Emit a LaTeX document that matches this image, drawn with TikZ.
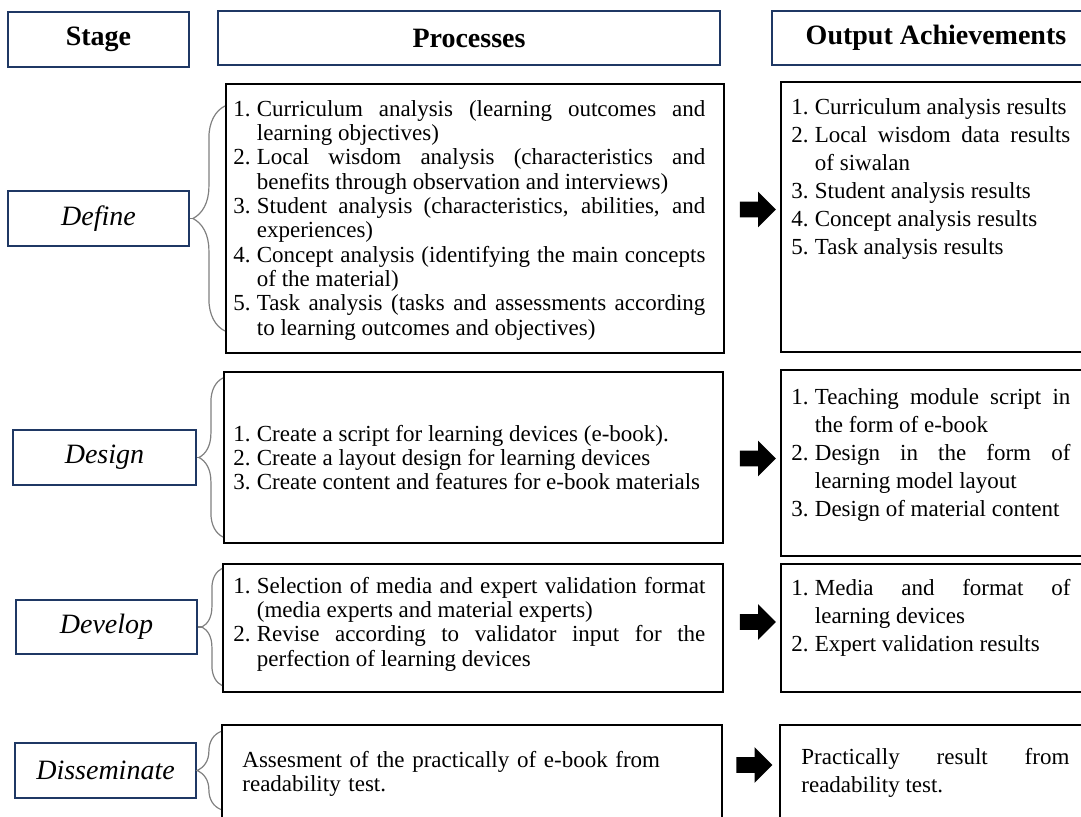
\documentclass[tikz,border=0pt]{standalone}
\usepackage{fontspec}
\setmainfont{Liberation Serif}
\usetikzlibrary{positioning, fit, calc, shapes.arrows, decorations.pathreplacing}
\definecolor{navy}{HTML}{1F3864}
\definecolor{bracegray}{HTML}{808080}

\newlength{\numw}
\setlength{\numw}{11.75pt}
% numbered item with hanging indent
\newcommand{\stepitem}[2]{\hangindent=\numw\hangafter=1\noindent\makebox[\numw][l]{\rule{0pt}{11pt}#1}#2\par}

\begin{document}
\begin{tikzpicture}[
            x = 0.5pt, y = -0.5pt, % one unit = one pixel
            head/.style = {draw = navy, line width = 0.9pt, inner sep = 0pt,
                label = {[font = \fontsize{14}{16}\selectfont\bfseries]center:#1}},
            stagebox/.style = {draw = navy, line width = 0.9pt, inner sep = 0pt,
                label = {[font = \fontsize{14}{16}\selectfont\itshape]center:#1}},
            procbox/.style = {draw = black, line width = 1.1pt, inner sep = 0pt},
            bodytext/.style = {inner sep = 0pt, anchor = north west, align = justify,
                execute at begin node = {\lineskiplimit=-\maxdimen\hyphenpenalty=10000\exhyphenpenalty=10000}},
            proctext/.style = {bodytext, text width = 236pt, font = \fontsize{11.5}{12.15}\selectfont},
            outtext/.style = {bodytext, text width = 139.5pt, font = \fontsize{11.5}{14}\selectfont},
            bracket/.style = {draw = bracegray, line width = 0.6pt},
            blockarrow/.style = {single arrow, fill = black, inner xsep = 0pt, inner ysep = 3.75pt,
                minimum width = 17.5pt, minimum height = 18pt, single arrow head extend = 5pt}
        ]

        \path[use as bounding box, clip] (0,0) rectangle (1081,817);

        % column heads
        \node[head = Stage, fit={(8,12) (189,67)}] (stagehead) {};
        \node[head = Processes, fit={(218,11) (720,65)}] (prochead) {};
        \node[head = Output Achievements, fit={(772,11) (1100,65)}] (outhead) {};

        % stages
        \node[stagebox = Define, fit={(8,191) (189,246)}] (define) {};
        \node[stagebox = Design, fit={(13,430) (196,485)}] (design) {};
        \node[stagebox = Develop, fit={(16,600) (197,654)}] (develop) {};
        \node[stagebox = Disseminate, fit={(15,743) (196,798)}] (disseminate) {};

        % process boxes
        \node[procbox, fit={(226,84) (724,353)}] (defproc) {};
        \node[procbox, fit={(224,372) (723,543)}] (desproc) {};
        \node[procbox, fit={(223,564) (723,692)}] (devproc) {};
        \node[procbox, fit={(222,725) (722,830)}] (disproc) {};

        % output boxes
        \node[procbox, fit={(781,82) (1095,352)}] (defout) {};
        \node[procbox, fit={(781,370) (1095,556)}] (desout) {};
        \node[procbox, fit={(781,564) (1095,692)}] (devout) {};
        \node[procbox, fit={(780,725) (1095,830)}] (disout) {};

        % process texts
        \node[proctext] (deftext) at (233,94) {%
            \stepitem{1.}{Curriculum analysis (learning outcomes and\linebreak learning objectives)}
            \stepitem{2.}{Local wisdom analysis (characteristics and\linebreak benefits through observation and interviews)}
            \stepitem{3.}{Student analysis (characteristics, abilities, and\linebreak experiences)}
            \stepitem{4.}{Concept analysis (identifying the main concepts\linebreak of the material)}
            \stepitem{5.}{Task analysis (tasks and assessments according\linebreak to learning outcomes and objectives)}};
        \node[proctext] (destext) at (233,419) {%
            \stepitem{1.}{Create a script for learning devices (e-book).}
            \stepitem{2.}{Create a layout design for learning devices}
            \stepitem{3.}{Create content and features for e-book materials}};
        \node[proctext] (devtext) at (233,571) {%
            \stepitem{1.}{Selection of media and expert validation format\linebreak (media experts and material experts)}
            \stepitem{2.}{Revise according to validator input for the\linebreak perfection of learning devices}};
        \node[proctext, align = left] (distext) at (242,745) {%
            \noindent\rule{0pt}{11pt}Assesment of the practically of e-book from\\readability test.};

        % output texts
        \node[outtext] (defres) at (791,92) {%
            \stepitem{1.}{Curriculum analysis results}
            \stepitem{2.}{Local wisdom data results\linebreak of siwalan}
            \stepitem{3.}{Student analysis results}
            \stepitem{4.}{Concept analysis results}
            \stepitem{5.}{Task analysis results}};
        \node[outtext] (desres) at (791,382) {%
            \stepitem{1.}{Teaching module script in\linebreak the form of e-book}
            \stepitem{2.}{Design in the form of\linebreak learning model layout}
            \stepitem{3.}{Design of material content}};
        \node[outtext] (devres) at (791,573) {%
            \stepitem{1.}{Media and format of\linebreak learning devices}
            \stepitem{2.}{Expert validation results}};
        \node[outtext, text width = 134pt] (disres) at (801,742) {%
            \noindent\rule{0pt}{11pt}Practically result from\linebreak readability test.};

        % braces from stage to process
        \draw[bracket, decorate, decoration={brace, amplitude=16pt}]
            ($(define.east -| defproc.west)+(0,112.5)$) -- ($(define.east -| defproc.west)-(0,112.5)$);
        \draw[bracket] (define.east) -- ($(define.east -| defproc.west)-(32,0)$);
        \draw[bracket, decorate, decoration={brace, amplitude=12pt}]
            ($(design.east -| desproc.west)+(0,79.5)$) -- ($(design.east -| desproc.west)-(0,79.5)$);
        \draw[bracket] (design.east) -- ($(design.east -| desproc.west)-(24,0)$);
        \draw[bracket, decorate, decoration={brace, amplitude=10pt}]
            ($(develop.east -| devproc.west)+(0,58.5)$) -- ($(develop.east -| devproc.west)-(0,58.5)$);
        \draw[bracket] (develop.east) -- ($(develop.east -| devproc.west)-(20,0)$);
        \draw[bracket, decorate, decoration={brace, amplitude=12pt}]
            ($(disseminate.east -| disproc.west)+(0,39)$) -- ($(disseminate.east -| disproc.west)-(0,39)$);
        \draw[bracket] (disseminate.east) -- ($(disseminate.east -| disproc.west)-(24,0)$);

        % arrows to outputs
        \node[blockarrow] (defarrow) at (754,209.5) {};
        \node[blockarrow] (desarrow) at (754,458.5) {};
        \node[blockarrow] (devarrow) at (754,622) {};
        \node[blockarrow] (disarrow) at (750.5,765) {};

\end{tikzpicture}
\end{document}
